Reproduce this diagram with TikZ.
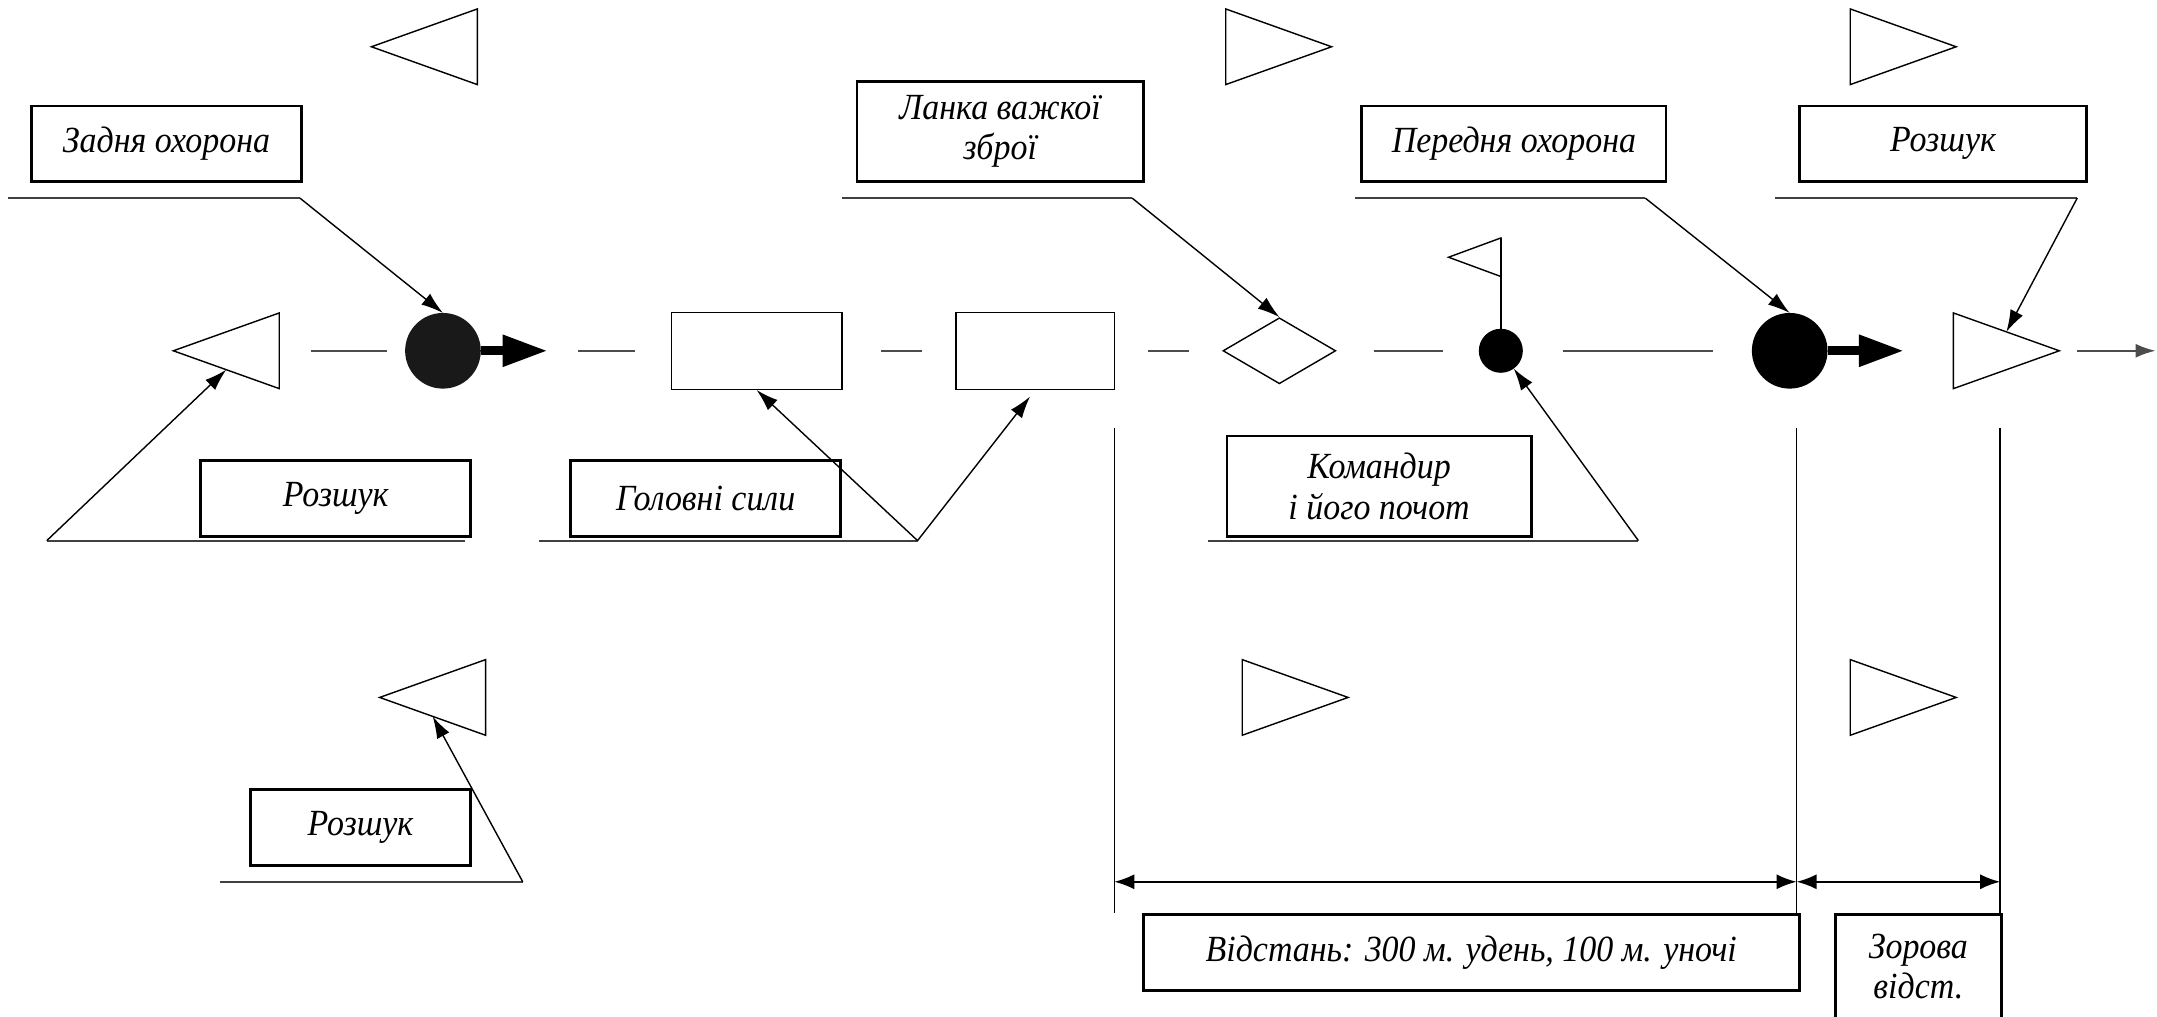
\documentclass[tikz,border=0pt]{standalone}
\usepackage{fontspec}
\setmainfont[FakeStretch=0.92]{Liberation Serif}
\usetikzlibrary{arrows.meta, positioning, shapes.geometric}

\newlength{\unitpx}
\setlength{\unitpx}{0.013756cm}

\begin{document}
\begin{tikzpicture}[
        x=\unitpx, y=-\unitpx,
        namebox/.style={rectangle, draw=black, line width=0.8pt, align=center, inner sep=0pt, font=\itshape\fontsize{10.5}{11.5}\selectfont, minimum height=55\unitpx},
        tri/.style={isosceles triangle, isosceles triangle stretches, draw=black, line width=0.4pt, inner sep=0pt, outer sep=0pt, minimum width=55\unitpx, minimum height=77\unitpx},
        lefttri/.style={tri, shape border rotate=180, anchor=apex},
        righttri/.style={tri, shape border rotate=0, anchor=apex},
        unitbox/.style={rectangle, draw=black, line width=0.4pt, minimum height=56\unitpx, inner sep=0pt},
        blob/.style={circle, fill=black, inner sep=0pt, outer sep=0pt},
        axis/.style={draw=black!70, line width=0.6pt},
        underline/.style={draw=black!75, line width=0.6pt},
        pointer/.style={-{Latex[length=2.2mm, width=1.4mm]}, line width=0.4pt},
        march/.style={-{Triangle[length=4.5mm, width=3mm]}, line width=2.5pt},
        dimline/.style={{Latex[length=2mm, width=1.5mm]}-{Latex[length=2mm, width=1.5mm]}, line width=0.5pt}
        ]
        \useasboundingbox (0,0) rectangle (1568,739);

        % Flank patrols
        \node[lefttri] (patrolNW) at (270,34) {};
        \node[righttri] (patrolN) at (968,34) {};
        \node[righttri] (patrolNE) at (1422,34) {};
        \node[lefttri] (patrolSW) at (276,507) {};
        \node[righttri] (patrolS) at (980,507) {};
        \node[righttri] (patrolSE) at (1422,507) {};

        % March column
        \node[lefttri] (rearpatrol) at (126,255) {};
        \node[blob, fill=black!90, minimum size=55\unitpx] (rear) at (322,255) {};
        \coordinate (rearhead) at (398,255);
        \node[unitbox, minimum width=124\unitpx] (main1) at (550,255) {};
        \node[unitbox, minimum width=115\unitpx] (main2) at (752.5,255) {};
        \node[diamond, draw=black, line width=0.4pt, inner sep=0pt, minimum width=82\unitpx, minimum height=48\unitpx] (heavy) at (930,255) {};
        \node[blob, minimum size=32\unitpx] (cmd) at (1091,255) {};
        \node[lefttri, minimum width=28\unitpx, minimum height=38\unitpx] (flag) at (1053,187) {};
        \node[blob, minimum size=55\unitpx] (front) at (1301,255) {};
        \coordinate (fronthead) at (1384,255);
        \node[righttri] (headpatrol) at (1497,255) {};
        \coordinate (heading) at (1567,255);

        % Captions
        \node[namebox, minimum width=196\unitpx] (rearname) at (121,104.5) {Задня охорона};
        \node[namebox, minimum width=208\unitpx, minimum height=73\unitpx] (heavyname) at (727,95.5) {Ланка важкої\\зброї};
        \node[namebox, minimum width=221\unitpx] (frontname) at (1100.5,104.5) {Передня охорона};
        \node[namebox, minimum width=209\unitpx] (searchNE) at (1412.5,104.5) {Розшук};
        \node[namebox, minimum width=196\unitpx] (searchW) at (244,362.5) {Розшук};
        \node[namebox, minimum width=196\unitpx] (mainname) at (513,362.5) {Головні сили};
        \node[namebox, minimum width=221\unitpx, minimum height=73\unitpx] (cmdname) at (1002.5,353.5) {Командир\\і його почот};
        \node[namebox, minimum width=160\unitpx] (searchSW) at (262,601.5) {Розшук};
        \node[namebox, minimum width=477\unitpx] (distname) at (1069.5,692.5) {Відстань: 300 м. удень, 100 м. уночі};
        \node[namebox, minimum width=121\unitpx, minimum height=75\unitpx] (sightname) at (1394.5,702.5) {Зорова\\відст.};

        % Column line
        \draw[axis, shorten <=23\unitpx, shorten >=13\unitpx] (rearpatrol) -- (rear);
        \draw[march] (rear.east) -- (rearhead);
        \draw[axis, shorten <=22\unitpx, shorten >=26\unitpx] (rearhead) -- (main1);
        \draw[axis, shorten <=28\unitpx, shorten >=24\unitpx] (main1) -- (main2);
        \draw[axis, shorten <=24\unitpx, shorten >=24\unitpx] (main2) -- (heavy);
        \draw[axis, shorten <=27\unitpx, shorten >=26\unitpx] (heavy) -- (cmd);
        \draw[axis, shorten <=29\unitpx, shorten >=28\unitpx] (cmd) -- (front);
        \draw[march] (front.east) -- (fronthead);
        \draw[axis, -{Latex[length=2mm, width=1.4mm]}, shorten <=13\unitpx] (headpatrol) -- (heading);
        \draw[line width=0.4pt] (cmd.north) -- (flag.right corner);

        % Pointers from captions
        \coordinate (rearL) at (6,144);    \coordinate (rearC) at (218,144);
        \coordinate (heavyL) at (612,144); \coordinate (heavyC) at (823,144);
        \coordinate (frontL) at (985,144); \coordinate (frontC) at (1196,144);
        \coordinate (neL) at (1290,144);   \coordinate (neC) at (1510,144);
        \coordinate (wC) at (34,393);      \coordinate (wR) at (338,393);
        \coordinate (mainL) at (392,393);  \coordinate (mainC) at (667,393);
        \coordinate (cmdL) at (878,393);   \coordinate (cmdC) at (1191,393);
        \coordinate (swL) at (160,641);    \coordinate (swC) at (380,641);

        \draw[underline] (rearL) -- (rearC);
        \draw[pointer] (rearC) -- (rear.north);
        \draw[underline] (heavyL) -- (heavyC);
        \draw[pointer] (heavyC) -- (heavy.north);
        \draw[underline] (frontL) -- (frontC);
        \draw[pointer] (frontC) -- (front.north);
        \draw[underline] (neL) -- (neC);
        \draw[pointer] (neC) -- (headpatrol.left side);
        \draw[underline] (wC) -- (wR);
        \draw[pointer] (wC) -- (rearpatrol.left side);
        \draw[underline] (mainL) -- (mainC);
        \draw[pointer] (mainC) -- (main1.south);
        \draw[pointer, shorten >=6\unitpx] (mainC) -- (main2.south);
        \draw[underline] (cmdL) -- (cmdC);
        \draw[pointer] (cmdC) -- (cmd);
        \draw[underline] (swL) -- (swC);
        \draw[pointer] (swC) -- (patrolSW.left side);

        % Distances
        \coordinate (gapA) at (810,311);
        \coordinate (gapB) at (1306,311);
        \coordinate (gapC) at (1454,311);
        \coordinate (dimrow) at (0,641);
        \draw[line width=0.4pt] (gapA) -- (gapA |- distname.north);
        \draw[line width=0.4pt] (gapB) -- (gapB |- distname.north);
        \draw[line width=0.4pt] (gapC) -- (gapC |- sightname.north);
        \draw[dimline] (gapA |- dimrow) -- (gapB |- dimrow);
        \draw[dimline] (gapB |- dimrow) -- (gapC |- dimrow);
\end{tikzpicture}
\end{document}
